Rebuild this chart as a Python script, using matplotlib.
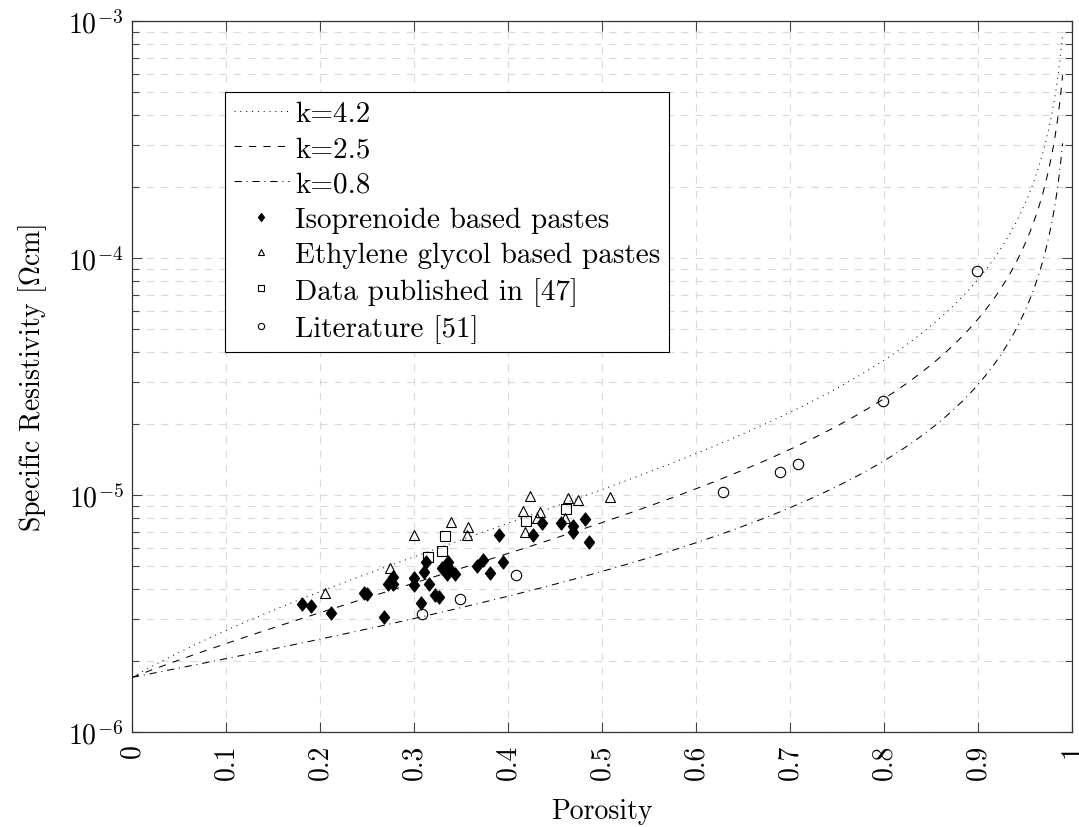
import numpy as np
import matplotlib
matplotlib.use("Agg")
import matplotlib.pyplot as plt
from matplotlib.ticker import LogLocator, NullFormatter, FixedLocator, FixedFormatter
from matplotlib.path import Path

plt.rcParams['font.family'] = 'serif'
plt.rcParams['font.serif'] = ['cmr10', 'DejaVu Serif']
plt.rcParams['mathtext.fontset'] = 'cm'
plt.rcParams['axes.formatter.use_mathtext'] = True
plt.rcParams['lines.scale_dashes'] = False

# model curves rho = rho0 * (1 + k*p) / (1 - p)
rho0 = 1.7e-6
k_values = [4.2, 2.5, 0.8]
p_max = 0.99

# Isoprenoide based pastes
iso_p = [0.181, 0.190, 0.212, 0.247, 0.250, 0.268, 0.272, 0.278, 0.278, 0.300,
         0.300, 0.307, 0.311, 0.313, 0.316, 0.322, 0.327, 0.330, 0.335, 0.336,
         0.337, 0.344, 0.367, 0.373, 0.381, 0.390, 0.395, 0.427, 0.436, 0.456,
         0.469, 0.469, 0.482, 0.486]
iso_r = [3.46e-6, 3.41e-6, 3.19e-6, 3.85e-6, 3.81e-6, 3.05e-6, 4.2e-6, 4.2e-6, 4.5e-6, 4.45e-6,
         4.17e-6, 3.5e-6, 4.72e-6, 5.23e-6, 4.21e-6, 3.8e-6, 3.72e-6, 4.93e-6, 4.64e-6, 5.2e-6,
         4.9e-6, 4.63e-6, 5.0e-6, 5.33e-6, 4.7e-6, 6.8e-6, 5.2e-6, 6.8e-6, 7.6e-6, 7.6e-6,
         7.4e-6, 7.0e-6, 7.9e-6, 6.35e-6]

# Ethylene glycol based pastes
eg_p = [0.205, 0.274, 0.300, 0.339, 0.356, 0.358, 0.416, 0.418, 0.423, 0.431,
        0.434, 0.461, 0.464, 0.474, 0.509]
eg_r = [3.85e-6, 4.9e-6, 6.8e-6, 7.7e-6, 6.8e-6, 7.3e-6, 8.6e-6, 7.0e-6, 9.9e-6, 8.0e-6,
        8.5e-6, 8.0e-6, 9.7e-6, 9.5e-6, 9.8e-6]

# Data published in [47]
pub_p = [0.315, 0.330, 0.333, 0.419, 0.462]
pub_r = [5.5e-6, 5.8e-6, 6.7e-6, 7.8e-6, 8.7e-6]

# Literature [51]
lit_p = [0.309, 0.349, 0.409, 0.629, 0.689, 0.709, 0.799, 0.899]
lit_r = [3.15e-6, 3.64e-6, 4.6e-6, 1.03e-5, 1.25e-5, 1.35e-5, 2.5e-5, 8.8e-5]

xticks = [0, 0.1, 0.2, 0.3, 0.4, 0.5, 0.6, 0.7, 0.8, 0.9, 1.0]
xtick_labels = ['0', '0.1', '0.2', '0.3', '0.4', '0.5', '0.6', '0.7', '0.8', '0.9', '1']

line_styles = [(0, (0.7, 3.5)), (0, (5.2, 5.2)), (0, (5.2, 3.5, 0.7, 3.5))]

FS = 20

fig = plt.figure(figsize=(10.79, 8.28), dpi=100)
ax = fig.add_axes([0.1223, 0.1147, 0.8712, 0.8587])

p = np.linspace(0, p_max, 600)
for k, ls in zip(k_values, line_styles):
    ax.plot(p, rho0 * (1 + k * p) / (1 - p), color='black', lw=0.75, linestyle=ls,
            label='k=%s' % k)

diamond = Path([(0, 1), (0.78, 0), (0, -1), (-0.78, 0), (0, 1)],
               [Path.MOVETO, Path.LINETO, Path.LINETO, Path.LINETO, Path.CLOSEPOLY])
ax.plot(iso_p, iso_r, linestyle='none', marker=diamond, ms=9.5, mfc='black', mec='black',
        mew=0.8, label='Isoprenoide based pastes')
ax.plot(eg_p, eg_r, linestyle='none', marker='^', ms=7.5, mfc='none', mec='black',
        mew=0.8, label='Ethylene glycol based pastes')
ax.plot(pub_p, pub_r, linestyle='none', marker='s', ms=7.5, mfc='none', mec='black',
        mew=0.8, label='Data published in [47]')
ax.plot(lit_p, lit_r, linestyle='none', marker='o', ms=7.5, mfc='none', mec='black',
        mew=0.8, label='Literature [51]')

ax.set_yscale('log')
ax.set_xlim(0, 1)
ax.set_ylim(1e-6, 1e-3)

ax.xaxis.set_major_locator(FixedLocator(xticks))
ax.xaxis.set_major_formatter(FixedFormatter(xtick_labels))
ax.yaxis.set_major_locator(LogLocator(base=10))
ax.yaxis.set_minor_locator(LogLocator(base=10, subs=np.arange(2, 10)))
ax.yaxis.set_minor_formatter(NullFormatter())

ax.tick_params(axis='both', which='both', direction='in', top=True, right=True,
               color='#444444', labelsize=FS)
ax.tick_params(axis='both', which='major', length=7, width=0.8)
ax.tick_params(axis='both', which='minor', length=5, width=0.8)
ax.tick_params(axis='x', which='major', labelrotation=90, pad=8)
ax.tick_params(axis='y', which='major', pad=6)

ax.grid(True, which='major', axis='x', color='#d9d9d9', lw=0.8, linestyle=(0, (5.2, 5.2)))
ax.grid(True, which='both', axis='y', color='#d9d9d9', lw=0.8, linestyle=(0, (5.2, 5.2)))
ax.set_axisbelow(True)

for s in ax.spines.values():
    s.set_color('#333333')
    s.set_linewidth(0.9)

ax.set_xlabel('Porosity', fontsize=FS, labelpad=14)
ax.set_ylabel(r'Specific Resistivity [$\Omega$cm]', fontsize=FS, labelpad=14)

leg = ax.legend(loc='upper left', bbox_to_anchor=(0.099, 0.9), borderaxespad=0,
                fontsize=21, fancybox=False, framealpha=1, edgecolor='black',
                markerscale=0.6, handlelength=1.9, handletextpad=0.2,
                labelspacing=0.3, borderpad=0.3)
leg.get_frame().set_linewidth(0.8)

fig.savefig('out.png', dpi=100)
